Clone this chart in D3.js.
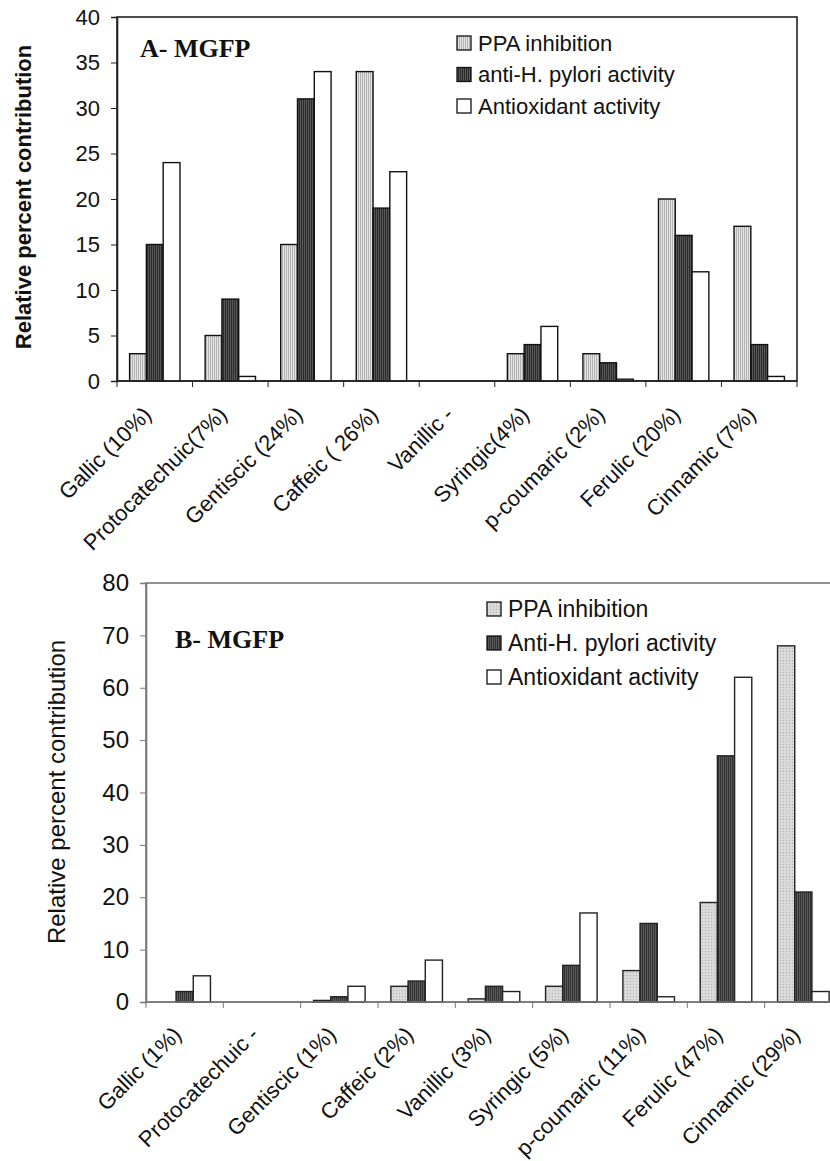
<!DOCTYPE html>
<html lang="en">
<head>
<meta charset="utf-8">
<title>Relative percent contribution</title>
<script src="https://d3js.org/d3.v7.min.js"></script>
<style>
  body { margin: 0; background: #fff; }
  svg { display: block; }
  text { font-family: "Liberation Sans", Arial, sans-serif; fill: #111; }
</style>
</head>
<body>
<script>
// ---- data ----
const seriesA = ["PPA inhibition", "anti-H. pylori activity", "Antioxidant activity"];
const categoriesA = ["Gallic (10%)", "Protocatechuic(7%)", "Gentiscic (24%)", "Caffeic ( 26%)", "Vanillic  -",
                     "Syringic(4%)", "p-coumaric (2%)", "Ferulic (20%)", "Cinnamic (7%)"];
const ppaA     = [3, 5, 15, 34, 0, 3, 3, 20, 17];
const antiA    = [15, 9, 31, 19, 0, 4, 2, 16, 4];
const antioxA  = [24, 0.5, 34, 23, 0, 6, 0.2, 12, 0.5];
const ticksA   = [0, 5, 10, 15, 20, 25, 30, 35, 40];

const seriesB = ["PPA inhibition", "Anti-H. pylori activity", "Antioxidant activity"];
const categoriesB = ["Gallic (1%)", "Protocatechuic -", "Gentiscic (1%)", "Caffeic (2%)", "Vanillic (3%)",
                     "Syringic (5%)", "p-coumaric (11%)", "Ferulic (47%)", "Cinnamic (29%)"];
const ppaB     = [0, 0, 0.3, 3, 0.6, 3, 6, 19, 68];
const antiB    = [2, 0, 1, 4, 3, 7, 15, 47, 21];
const antioxB  = [5, 0, 3, 8, 2, 17, 1, 62, 2];
const ticksB   = [0, 10, 20, 30, 40, 50, 60, 70, 80];

const svg = d3.select("body").append("svg")
  .attr("width", 830).attr("height", 1161);

// ---- fill patterns ----
const defs = svg.append("defs");
function stripes(id, bg, fg, step) {
  const p = defs.append("pattern").attr("id", id)
    .attr("patternUnits", "userSpaceOnUse").attr("width", step).attr("height", 4);
  p.append("rect").attr("width", step).attr("height", 4).attr("fill", bg);
  p.append("rect").attr("width", 1).attr("height", 4).attr("fill", fg);
}
function dots(id, bg, fg) {
  const p = defs.append("pattern").attr("id", id)
    .attr("patternUnits", "userSpaceOnUse").attr("width", 3).attr("height", 3);
  p.append("rect").attr("width", 3).attr("height", 3).attr("fill", bg);
  p.append("rect").attr("width", 1).attr("height", 1).attr("fill", fg);
}
stripes("ppaA", "#e4e4e4", "#b4b4b4", 2);
stripes("antiA", "#2b2b2b", "#575757", 2);
dots("ppaB", "#dadada", "#b0b0b0");
stripes("antiB", "#5a5a5a", "#333", 2);

function drawChart(o) {
  const g = svg.append("g");
  const x0 = d3.scaleBand().domain(o.categories).range([o.left, o.right]);
  const x1 = d3.scaleBand().domain(d3.range(3)).range([0, x0.bandwidth()]).paddingOuter(0.75);
  const y = d3.scaleLinear().domain([0, o.max]).range([o.bottom, o.top]);
  const fills = [`url(#${o.fillIds[0]})`, `url(#${o.fillIds[1]})`, "#fff"];
  const values = [o.s1, o.s2, o.s3];

  // frame
  g.append("rect")
    .attr("x", o.left).attr("y", o.top)
    .attr("width", o.right - o.left).attr("height", o.bottom - o.top)
    .attr("fill", "none").attr("stroke", o.axisColor).attr("stroke-width", 1.6);

  // bars
  values.forEach((vals, s) => {
    g.selectAll(null).data(vals).join("rect")
      .attr("x", (d, i) => x0(o.categories[i]) + x1(s))
      .attr("y", d => y(d))
      .attr("width", x1.bandwidth())
      .attr("height", d => y(0) - y(d))
      .attr("fill", fills[s])
      .attr("stroke", d => d > 0 ? o.barStroke : "none")
      .attr("stroke-width", 1.4);
  });

  // y axis
  const ya = g.append("g").attr("transform", `translate(${o.left},0)`)
    .call(d3.axisLeft(y).tickValues(o.ticks).tickSize(6).tickPadding(11));
  ya.select(".domain").attr("stroke", o.axisColor).attr("stroke-width", 1.6);
  ya.selectAll(".tick line").attr("stroke", o.axisColor);
  ya.selectAll("text").style("font-size", o.tickFont + "px").attr("fill", "#111");

  // x axis: ticks at category boundaries
  g.append("line").attr("x1", o.left).attr("x2", o.right)
    .attr("y1", y(0)).attr("y2", y(0)).attr("stroke", o.axisColor).attr("stroke-width", 1.6);
  const bounds = o.categories.map(c => x0(c)).concat([o.right]);
  g.selectAll(null).data(bounds).join("line")
    .attr("x1", d => d).attr("x2", d => d)
    .attr("y1", y(0)).attr("y2", y(0) + 6)
    .attr("stroke", o.axisColor);
  g.selectAll(null).data(o.categories).join("text")
    .attr("transform", d => `translate(${x0(d) + x0.bandwidth() / 2 + o.labelDx},${y(0) + o.labelDy}) rotate(-45)`)
    .attr("text-anchor", "end")
    .style("font-size", o.labelFont + "px")
    .text(d => d);

  // y title
  g.append("text")
    .attr("transform", `translate(${o.titleX},${o.titleY}) rotate(-90)`)
    .attr("text-anchor", "middle")
    .style("font-size", o.titleFont + "px")
    .style("font-weight", o.titleWeight)
    .text("Relative percent contribution");

  // panel label
  g.append("text")
    .attr("x", o.left + o.panelDx).attr("y", o.top + o.panelDy)
    .style("font-family", "'Liberation Serif', 'Times New Roman', serif")
    .style("font-weight", "bold").style("font-size", "26px")
    .text(o.panel);

  // legend
  const lg = g.append("g").attr("transform", `translate(${o.legendX},${o.legendY})`);
  o.series.forEach((name, s) => {
    const row = lg.append("g").attr("transform", `translate(0,${s * o.legendStep})`);
    row.append("rect").attr("x", 0).attr("y", -7).attr("width", 14).attr("height", 14)
      .attr("fill", fills[s]).attr("stroke", "#111").attr("stroke-width", 1.3);
    row.append("text").attr("x", 21).attr("y", 0).attr("dy", "0.36em")
      .style("font-size", o.legendFont + "px").text(name);
  });
}

drawChart({
  categories: categoriesA, series: seriesA, s1: ppaA, s2: antiA, s3: antioxA,
  ticks: ticksA, max: 40, left: 117, right: 797, top: 17, bottom: 381,
  fillIds: ["ppaA", "antiA"], axisColor: "#222", barStroke: "#111",
  tickFont: 22, labelFont: 22, legendFont: 22, titleFont: 22,
  titleWeight: "bold", titleX: 31, titleY: 197,
  labelDx: -2, labelDy: 35, panel: "A- MGFP", panelDx: 23, panelDy: 40,
  legendX: 457, legendY: 43, legendStep: 31.5
});

drawChart({
  categories: categoriesB, series: seriesB, s1: ppaB, s2: antiB, s3: antioxB,
  ticks: ticksB, max: 80, left: 146, right: 842, top: 583, bottom: 1002,
  fillIds: ["ppaB", "antiB"], axisColor: "#777", barStroke: "#222",
  tickFont: 24, labelFont: 22, legendFont: 23, titleFont: 24,
  titleWeight: "normal", titleX: 65, titleY: 792,
  labelDx: -2, labelDy: 34, panel: "B- MGFP", panelDx: 29, panelDy: 65,
  legendX: 487, legendY: 609, legendStep: 34
});
</script>
</body>
</html>
